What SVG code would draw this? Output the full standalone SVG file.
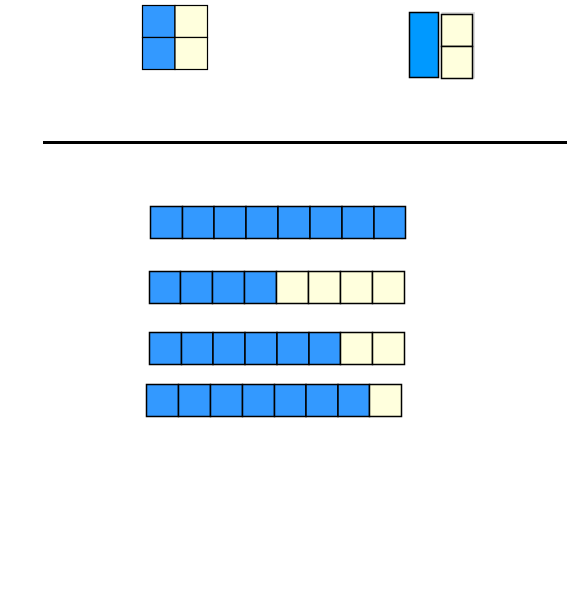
<svg xmlns="http://www.w3.org/2000/svg" width="582" height="590" viewBox="0 0 582 590">
<style>
.b{fill:#3399ff;stroke:#000;stroke-width:1.5}
.y{fill:#ffffdd;stroke:#000;stroke-width:1.5}
.t{stroke:#000;stroke-width:1.2}
</style>
<rect width="582" height="590" fill="#fff"/>
<g id="left-square">
<rect class="b t" x="142.5" y="5.5" width="32.5" height="32"/>
<rect class="y t" x="175" y="5.5" width="32.5" height="32"/>
<rect class="b t" x="142.5" y="37.5" width="32.5" height="32"/>
<rect class="y t" x="175" y="37.5" width="32.5" height="32"/>
</g>
<g id="right-square">
<rect x="441.5" y="12" width="33.5" height="66.5" fill="#dddddd"/>
<rect x="409.5" y="12.5" width="29" height="65" fill="#0099ff" stroke="#000" stroke-width="1.5"/>
<rect class="y" x="441.5" y="14.5" width="31" height="32"/>
<rect class="y" x="441.5" y="46.5" width="31" height="32"/>
</g>
<line id="divider" x1="43" y1="142.5" x2="567" y2="142.5" stroke="#000" stroke-width="3"/>
<g id="row1">
<rect class="b" x="150.5" y="206.5" width="32" height="32"/>
<rect class="b" x="182.5" y="206.5" width="31.5" height="32"/>
<rect class="b" x="214" y="206.5" width="32" height="32"/>
<rect class="b" x="246" y="206.5" width="32" height="32"/>
<rect class="b" x="278" y="206.5" width="32" height="32"/>
<rect class="b" x="310" y="206.5" width="32" height="32"/>
<rect class="b" x="342" y="206.5" width="32" height="32"/>
<rect class="b" x="374" y="206.5" width="31.5" height="32"/>
</g>
<g id="row2">
<rect class="b" x="149.5" y="271.5" width="31" height="32"/>
<rect class="b" x="180.5" y="271.5" width="32" height="32"/>
<rect class="b" x="212.5" y="271.5" width="32" height="32"/>
<rect class="b" x="244.5" y="271.5" width="32" height="32"/>
<rect class="y" x="276.5" y="271.5" width="32" height="32"/>
<rect class="y" x="308.5" y="271.5" width="32" height="32"/>
<rect class="y" x="340.5" y="271.5" width="32" height="32"/>
<rect class="y" x="372.5" y="271.5" width="32" height="32"/>
</g>
<g id="row3">
<rect class="b" x="149.5" y="332.5" width="32" height="32"/>
<rect class="b" x="181.5" y="332.5" width="31.5" height="32"/>
<rect class="b" x="213" y="332.5" width="32" height="32"/>
<rect class="b" x="245" y="332.5" width="32" height="32"/>
<rect class="b" x="277" y="332.5" width="32" height="32"/>
<rect class="b" x="309" y="332.5" width="31.5" height="32"/>
<rect class="y" x="340.5" y="332.5" width="32" height="32"/>
<rect class="y" x="372.5" y="332.5" width="32" height="32"/>
</g>
<g id="row4">
<rect class="b" x="146.5" y="384.5" width="32" height="32"/>
<rect class="b" x="178.5" y="384.5" width="32" height="32"/>
<rect class="b" x="210.5" y="384.5" width="32" height="32"/>
<rect class="b" x="242.5" y="384.5" width="32" height="32"/>
<rect class="b" x="274.5" y="384.5" width="31.5" height="32"/>
<rect class="b" x="306" y="384.5" width="32" height="32"/>
<rect class="b" x="338" y="384.5" width="31.5" height="32"/>
<rect class="y" x="369.5" y="384.5" width="32" height="32"/>
</g>
</svg>
